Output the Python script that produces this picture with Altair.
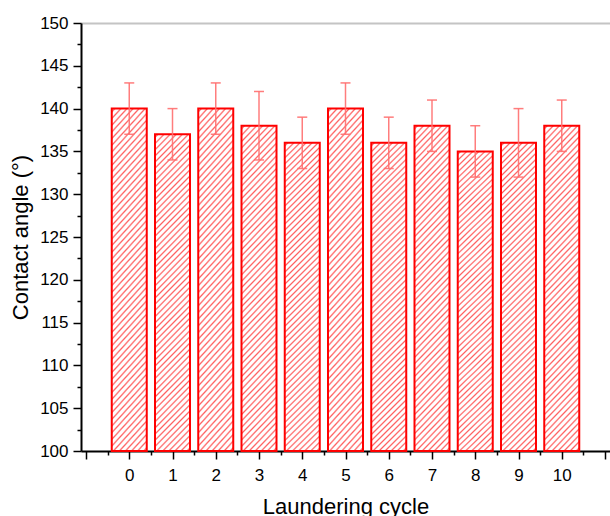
import altair as alt
import pandas as pd

cycles = [0, 1, 2, 3, 4, 5, 6, 7, 8, 9, 10]
angles = [140, 137, 140, 138, 136, 140, 136, 138, 135, 136, 138]
err_hi = [143, 140, 143, 142, 139, 143, 139, 141, 138, 140, 141]
err_lo = [137, 134, 137, 134, 133, 137, 133, 135, 132, 132, 135]

x_major = list(range(-1, 12))
x_minor = [v + 0.5 for v in range(-1, 11)]
y_major = list(range(100, 151, 5))
y_minor = [v + 2.5 for v in range(100, 150, 5)]

df = pd.DataFrame({"cycle": cycles, "angle": angles, "hi": err_hi, "lo": err_lo})

FONT = "Liberation Sans"

# diagonal hatch via a striped linear gradient
N = 57
stops = []
for i in range(N):
    a = i / N
    stops += [
        {"offset": a, "color": "#ffffff"},
        {"offset": a + 0.22 / N, "color": "#ffffff"},
        {"offset": a + 0.50 / N, "color": "#ff6060"},
        {"offset": a + 0.78 / N, "color": "#ffffff"},
    ]
stops.append({"offset": 1.0, "color": "#ffffff"})
hatch = alt.Gradient(gradient="linear", x1=0, y1=0, x2=0.1237, y2=1.0987, stops=stops)

xscale = alt.Scale(domain=[-1, 11], nice=False, zero=False)
yscale = alt.Scale(domain=[100, 150], nice=False, zero=False)

xaxis = alt.Axis(
    values=x_major, orient="bottom", title="Laundering cycle",
    labelExpr="datum.value < 0 || datum.value > 10 ? '' : datum.label",
    tickSize=8, tickWidth=1.5, tickColor="black", domainColor="black", domainWidth=2,
    labelFont=FONT, labelFontSize=17, labelColor="black", labelPadding=8,
    titleFont=FONT, titleFontSize=22, titleFontWeight="normal", titleColor="black",
    titleBaseline="alphabetic", titleY=62, grid=False,
)
yaxis = alt.Axis(
    values=y_major, orient="left", title="Contact angle (°)",
    tickSize=8, tickWidth=1.5, tickColor="black", domainColor="black", domainWidth=2,
    labelFont=FONT, labelFontSize=17, labelColor="black", labelPadding=5,
    titleFont=FONT, titleFontSize=22, titleFontWeight="normal", titleColor="black",
    titleBaseline="alphabetic", titleX=-54, titleAngle=270, grid=False,
)

bars = alt.Chart(df).mark_bar(
    size=35, fill=hatch, stroke="#ff0000", strokeWidth=2
).encode(
    x=alt.X("cycle:Q", scale=xscale, axis=xaxis),
    y=alt.Y("angle:Q", scale=yscale, axis=yaxis),
    y2=alt.datum(100),
)

ECOL = "#ff6f6f"
rules = alt.Chart(df).mark_rule(color=ECOL, strokeWidth=1.5, opacity=0.9).encode(
    x=alt.X("cycle:Q", axis=None), y=alt.Y("lo:Q", axis=None), y2="hi:Q"
)
cap_hi = alt.Chart(df).mark_tick(color=ECOL, orient="horizontal", size=10, thickness=1.5, opacity=0.9).encode(
    x=alt.X("cycle:Q", axis=None), y=alt.Y("hi:Q", axis=None)
)
cap_lo = alt.Chart(df).mark_tick(color=ECOL, orient="horizontal", size=10, thickness=1.5, opacity=0.9).encode(
    x=alt.X("cycle:Q", axis=None), y=alt.Y("lo:Q", axis=None)
)

minor = alt.Chart(df).mark_point(opacity=0).encode(
    x=alt.X("cycle:Q", axis=alt.Axis(values=x_minor, orient="bottom", labels=False, domain=False,
                                     tickSize=4, tickWidth=1.5, tickColor="black", title=None, grid=False)),
    y=alt.Y("angle:Q", axis=alt.Axis(values=y_minor, orient="left", labels=False, domain=False,
                                     tickSize=4, tickWidth=1.5, tickColor="black", title=None, grid=False)),
)

top = alt.Chart(df).mark_point(opacity=0).encode(
    x=alt.X("cycle:Q", axis=alt.Axis(orient="top", labels=False, ticks=False, domainColor="#c4c4c4",
                                     domainWidth=2, title=None, grid=False)),
    y=alt.Y("angle:Q", axis=None),
)

chart = alt.layer(bars, rules, cap_hi, cap_lo, minor, top).resolve_axis(
    x="independent", y="independent"
).properties(
    width=529, height=428,
    padding={"left": 81, "top": 23, "right": 0, "bottom": 65},
    autosize=alt.AutoSizeParams(type="none"),
    background="white",
).configure_view(stroke=None)

chart.save("out.html", embed_options={"renderer": "svg", "actions": False})
